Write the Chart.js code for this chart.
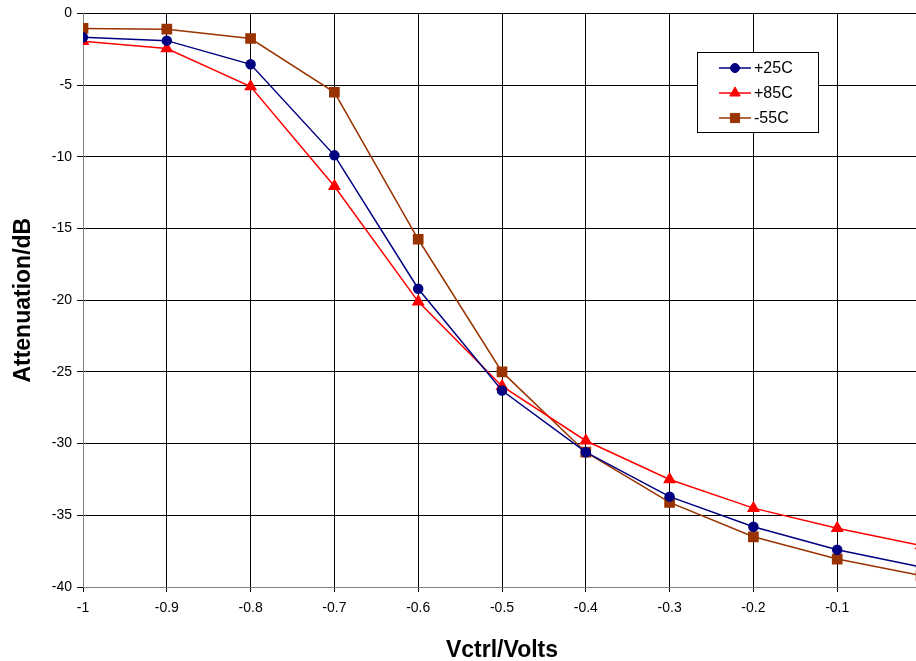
<!DOCTYPE html>
<html>
<head>
<meta charset="utf-8">
<script src="https://cdn.jsdelivr.net/npm/chart.js@4.4.1/dist/chart.umd.min.js"></script>
<style>
  html, body { margin: 0; padding: 0; background: #fff; overflow: hidden; }
  #wrap { width: 929px; height: 661px; position: relative; }
</style>
</head>
<body>
<div id="wrap"><canvas id="chart"></canvas></div>
<script>
// control voltage (V)
const vctrl = [-1, -0.9, -0.8, -0.7, -0.6, -0.5, -0.4, -0.3, -0.2, -0.1, 0];
// attenuation (dB) per temperature
const att25 = [-1.67, -1.9, -3.55, -9.9, -19.2, -26.3, -30.6, -33.7, -35.8, -37.4, -38.6];
const att85 = [-1.95, -2.45, -5.1, -12.05, -20.1, -26.0, -29.8, -32.5, -34.5, -35.9, -37.1];
const attM55 = [-1.05, -1.1, -1.75, -5.5, -15.75, -25.0, -30.6, -34.1, -36.5, -38.05, -39.2];
const seriesNames = ['+25C', '+85C', '-55C'];

const toPoints = (ys) => vctrl.map((x, i) => ({ x: x, y: ys[i] }));

// legend box drawn inside the plot, like the original
const boxLegend = {
    id: 'boxLegend',
    afterDatasetsDraw(chart) {
        const ctx = chart.ctx;
        const x0 = 697, y0 = 52, w = 121, h = 80;
        ctx.save();
        ctx.fillStyle = '#fff';
        ctx.fillRect(x0, y0, w, h);
        ctx.strokeStyle = '#000';
        ctx.lineWidth = 1;
        ctx.strokeRect(x0 + 0.5, y0 + 0.5, w, h);
        chart.data.datasets.forEach((ds, i) => {
            const y = y0 + 16 + i * 25;
            ctx.strokeStyle = ds.borderColor;
            ctx.lineWidth = 1.5;
            ctx.beginPath();
            ctx.moveTo(x0 + 22, y);
            ctx.lineTo(x0 + 54, y);
            ctx.stroke();
            ctx.fillStyle = ds.pointBackgroundColor;
            ctx.strokeStyle = ds.pointBorderColor;
            ctx.lineWidth = 1;
            Chart.helpers.drawPoint(ctx, {
                pointStyle: ds.pointStyle,
                radius: ds.pointRadius,
                borderWidth: 1
            }, x0 + 38, y);
            ctx.fillStyle = '#000';
            ctx.font = '16px "Liberation Sans", Arial, sans-serif';
            ctx.textBaseline = 'middle';
            ctx.textAlign = 'left';
            ctx.fillText(ds.label, x0 + 57, y + 1);
        });
        ctx.restore();
    }
};

const ctx = document.getElementById('chart');
new Chart(ctx, {
    type: 'line',
    data: {
        datasets: [
            {
                label: seriesNames[0],
                data: toPoints(att25),
                borderColor: '#000080',
                backgroundColor: '#000080',
                pointBackgroundColor: '#000080',
                pointBorderColor: '#000080',
                pointStyle: 'circle',
                pointRadius: 4.5,
                borderWidth: 1.5
            },
            {
                label: seriesNames[1],
                data: toPoints(att85),
                borderColor: '#ff0000',
                backgroundColor: '#ff0000',
                pointBackgroundColor: '#ff0000',
                pointBorderColor: '#ff0000',
                pointStyle: 'triangle',
                pointRadius: 6,
                borderWidth: 1.5
            },
            {
                label: seriesNames[2],
                data: toPoints(attM55),
                borderColor: '#993300',
                backgroundColor: '#993300',
                pointBackgroundColor: '#993300',
                pointBorderColor: '#993300',
                pointStyle: 'rect',
                pointRadius: 6.5,
                borderWidth: 1.5
            }
        ]
    },
    options: {
        responsive: true,
        maintainAspectRatio: false,
        animation: false,
        layout: { padding: { top: 13, right: 5, left: 0, bottom: 0 } },
        plugins: {
            legend: { display: false },
            tooltip: { enabled: false }
        },
        scales: {
            x: {
                type: 'linear',
                min: -1,
                max: 0,
                ticks: {
                    stepSize: 0.1,
                    color: '#000',
                    font: { family: '"Liberation Sans", Arial, sans-serif', size: 14 },
                    padding: 8,
                    maxRotation: 0,
                    // the 0 label falls outside the cropped picture
                    callback: (v) => (Math.abs(v) < 1e-9 ? '' : Number(v.toFixed(1)).toString())
                },
                grid: { color: '#000', tickLength: 5, lineWidth: 1 },
                border: { color: '#808080' },
                title: {
                    display: true,
                    text: 'Vctrl/Volts',
                    color: '#000',
                    font: { family: '"Liberation Sans", Arial, sans-serif', size: 23, weight: 'bold' },
                    padding: { top: 0, bottom: -3 }
                },
                afterFit: (s) => { s.height = 74; }
            },
            y: {
                min: -40,
                max: 0,
                ticks: {
                    stepSize: 5,
                    color: '#000',
                    font: { family: '"Liberation Sans", Arial, sans-serif', size: 14 },
                    padding: 5
                },
                grid: { color: '#000', tickLength: 6, lineWidth: 1 },
                border: { color: '#808080' },
                title: {
                    display: true,
                    text: 'Attenuation/dB',
                    color: '#000',
                    font: { family: '"Liberation Sans", Arial, sans-serif', size: 23, weight: 'bold' },
                    padding: { top: 10, bottom: 0 }
                },
                afterFit: (s) => { s.width = 83; }
            }
        }
    },
    plugins: [boxLegend]
});
</script>
</body>
</html>
